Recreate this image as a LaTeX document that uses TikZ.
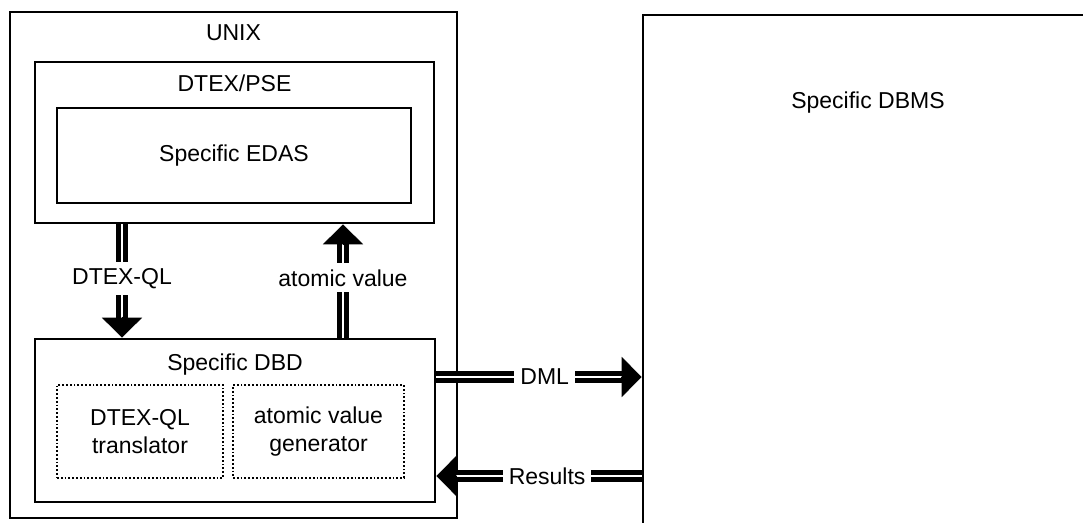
\documentclass[tikz,border=0pt]{standalone}
\usepackage{fontspec}
\setmainfont{Liberation Sans}
\usetikzlibrary{arrows.meta,calc,positioning}

\begin{document}
\begin{tikzpicture}[x=0.5pt,y=-0.5pt,
    every node/.style={font=\fontsize{11.5}{14}\selectfont},
    box/.style={draw, line width=1.3pt, inner sep=0pt},
    subbox/.style={draw, line width=0.9pt, densely dotted, inner sep=0pt, align=center},
    pipe/.style={line width=2.4pt, double=white, double distance=1pt},
    head/.style={line width=0.4pt, -{Triangle[width=20pt,length=10pt]}},
    lbl/.style={fill=white, inner sep=3pt}]
    \useasboundingbox (0,0) rectangle (1083,523);
    \clip (0,0) rectangle (1083,523);
    % boxes
    \node[box, minimum width=223.5pt, minimum height=253pt] (unix) at (233.5,265) {};
    \node (unixlbl) at (233.5,33) {UNIX};
    \node[box, minimum width=199.5pt, minimum height=80.5pt] (pse) at (234.5,142.5) {};
    \node (pselbl) at (234.5,83) {DTEX/PSE};
    \node[box, minimum width=177pt, minimum height=47.5pt] (edas) at (234,155.5) {Specific EDAS};
    \node[box, minimum width=200pt, minimum height=81.5pt] (dbd) at (235,420.5) {};
    \node (dbdlbl) at (235,365) {Specific DBD};
    \node[subbox, minimum width=83pt, minimum height=46.5pt] (transl) at (140,431.5) {DTEX-QL\\translator};
    \node[subbox, minimum width=85.5pt, minimum height=46.5pt] (gener) at (318.5,431.5) {atomic value\\generator};
    \node[box, minimum width=253.5pt, minimum height=292.5pt] (dbms) at (896.5,307.5) {};
    \node (dbmslbl) at (868,103) {Specific DBMS};
    % vertical pipes
    \coordinate (qlx) at (122,0);
    \coordinate (avx) at (343,0);
    \draw[pipe] (pse.south -| qlx) -- node[lbl,pos=0.58] {DTEX-QL} ($(dbd.north -| qlx)+(0,-20)$);
    \draw[head] ($(dbd.north -| qlx)+(0,-21)$) -- (dbd.north -| qlx);
    \draw[pipe] (dbd.north -| avx) -- node[lbl,pos=0.64] {atomic value} ($(pse.south -| avx)+(0,20)$);
    \draw[head] ($(pse.south -| avx)+(0,21)$) -- (pse.south -| avx);
    % horizontal pipes
    \coordinate (dmly) at (0,377);
    \coordinate (resy) at (0,476);
    \draw[pipe] (dbd.east |- dmly) -- node[lbl,pos=0.585] {DML} ($(dbms.west |- dmly)+(-20,0)$);
    \draw[head] ($(dbms.west |- dmly)+(-21,0)$) -- (dbms.west |- dmly);
    \draw[pipe] (dbms.west |- resy) -- node[lbl,pos=0.51] {Results} ($(dbd.east |- resy)+(20,0)$);
    \draw[head] ($(dbd.east |- resy)+(21,0)$) -- (dbd.east |- resy);
\end{tikzpicture}
\end{document}
